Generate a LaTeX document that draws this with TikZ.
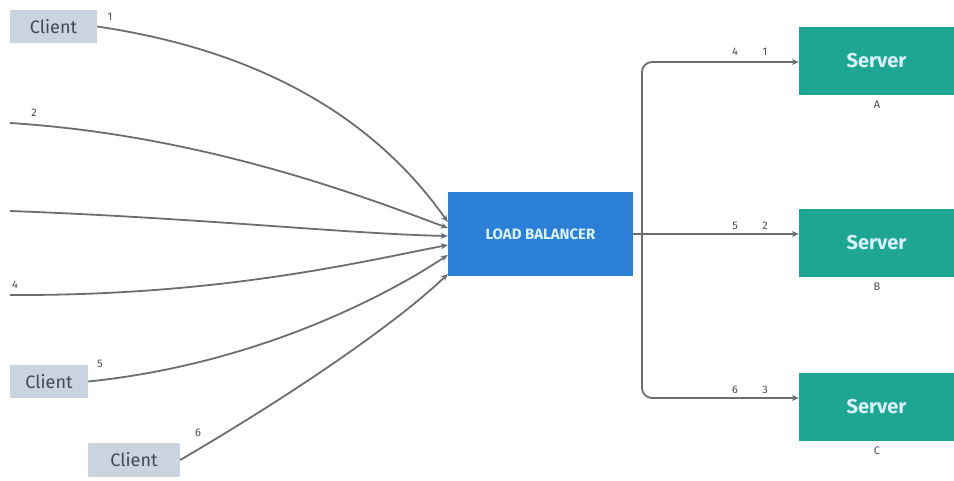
\documentclass[tikz,border=0pt]{standalone}
\usepackage{fontspec}
\setmainfont{Fira Sans}
\usetikzlibrary{arrows.meta}
\definecolor{clientfill}{HTML}{C9D4DF}
\definecolor{clienttext}{HTML}{3E4A56}
\definecolor{lbblue}{HTML}{2B7FD6}
\definecolor{srvteal}{HTML}{1FA693}
\definecolor{wire}{HTML}{6A6E72}
\definecolor{lbl}{HTML}{4A4A4A}
\tikzset{
  clientbox/.style={fill=clientfill, text=clienttext, inner sep=0pt, font=\fontsize{18}{18}\selectfont},
  serverbox/.style={fill=srvteal, text=white!85!cyan, minimum width=155pt, minimum height=68pt, inner sep=0pt, font=\bfseries\fontsize{20}{20}\selectfont},
  lbbox/.style={fill=lbblue, text=white!85!cyan, minimum width=185pt, minimum height=84pt, inner sep=0pt, font=\bfseries\fontsize{15}{15}\selectfont},
  wirel/.style={draw=wire, line width=1.8pt},
  arr/.style={wirel, -{Stealth[length=7pt,width=6pt]}},
  num/.style={text=lbl, font=\fontsize{11}{11}\selectfont, inner sep=0pt},
}
\begin{document}
\begin{tikzpicture}[x=1pt,y=-1pt]
\useasboundingbox (0,0) rectangle (954,481);
% clients
\node[clientbox, minimum width=87pt, minimum height=33pt] (c1) at (53.5,26.5) {Client};
\node[clientbox, minimum width=78pt, minimum height=33pt] (c5) at (49,381.5) {Client};
\node[clientbox, minimum width=92pt, minimum height=34pt] (c6) at (134,460) {Client};
\coordinate (c2) at (10,123);
\coordinate (c3) at (10,211);
\coordinate (c4) at (10,295);
% load balancer
\node[lbbox] (lb) at (540.5,234) {LOAD BALANCER};
% servers
\node[serverbox] (sa) at (876.5,61) {Server};
\node[serverbox] (sb) at (876.5,243) {Server};
\node[serverbox] (sc) at (876.5,407) {Server};
\node[num] (la) at (877,105) {A};
\node[num] (lbB) at (877,287) {B};
\node[num] (lc) at (877,451) {C};
% left connectors
\draw[arr] (c1.east) .. controls (290,55) and (390,140) .. ([yshift=12pt]lb.west);
\draw[arr] (c2) .. controls (200,135) and (360,195) .. ([yshift=6pt]lb.west);
\draw[arr] (c3) .. controls (200,218) and (350,234) .. ([yshift=-2pt]lb.west);
\draw[arr] (c4) .. controls (220,296) and (360,262) .. ([yshift=-11pt]lb.west);
\draw[arr] (c5.east) .. controls (250,365) and (380,300) .. ([yshift=-21pt]lb.west);
\draw[arr] (c6.east) .. controls (300,390) and (400,320) .. ([yshift=-40pt]lb.west);
\node[num] (n1) at (110,17) {1};
\node[num] (n2) at (34,113) {2};
\node[num] (n4) at (15,285) {4};
\node[num] (n5) at (100,364) {5};
\node[num] (n6) at (198,433) {6};
% right connectors
\coordinate (j) at (642,234);
\draw[wirel] (lb.east) -- (j);
\draw[arr, rounded corners=10pt] (j) |- ([yshift=-1pt]sa.west);
\draw[arr] (j) -- (sb.west |- j);
\draw[arr, rounded corners=10pt] (j) |- ([yshift=9pt]sc.west);
\node[num] (r41) at (735,52) {4};
\node[num] (r1) at (765,52) {1};
\node[num] (r5) at (735,226) {5};
\node[num] (r2) at (765,226) {2};
\node[num] (r6) at (735,390) {6};
\node[num] (r3) at (765,390) {3};
\end{tikzpicture}
\end{document}
